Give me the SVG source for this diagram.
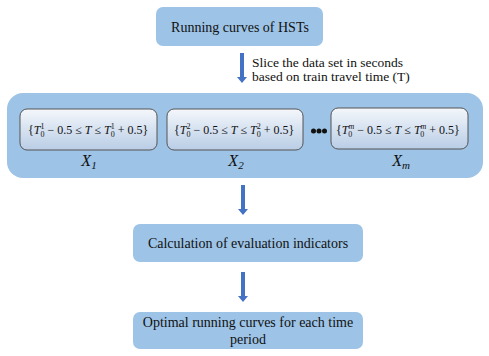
<svg xmlns="http://www.w3.org/2000/svg" width="489" height="356" viewBox="0 0 489 356">
<defs>
<linearGradient id="g" x1="0" y1="0" x2="0" y2="1">
<stop offset="0" stop-color="#f4f7fb"/>
<stop offset="1" stop-color="#b9cde6"/>
</linearGradient>
<style>
.box{fill:#9dc3e6;}
.inner{fill:url(#g);stroke:#555;stroke-width:1;}
.t{font-family:"Liberation Serif","Times New Roman",serif;font-size:14px;fill:#111;text-anchor:middle;}
.s13{font-family:"Liberation Serif","Times New Roman",serif;font-size:13.5px;fill:#111;}
.m{font-family:"Liberation Serif","Times New Roman",serif;font-size:12px;fill:#111;}
.i{font-style:italic;}
.sc{font-size:8px;}
.x{font-family:"Liberation Serif","Times New Roman",serif;font-size:16px;font-style:italic;fill:#111;text-anchor:middle;}
.arr{fill:#4472c4;}
</style>
</defs>

<g id="connectors">
<path class="arr" d="M240,53 H244 V77 H247 L242,83 L237,77 H240 Z"/>
<path class="arr" d="M241,185 H245 V209 H248 L243,215 L238,209 H241 Z"/>
<path class="arr" d="M241,272 H245 V296 H248 L243,302 L238,296 H241 Z"/>
</g>

<g id="n-top">
<rect class="box" x="156" y="7" width="167" height="39" rx="7"/>
<text class="t" x="240" y="32">Running curves of HSTs</text>
</g>

<g id="slice-label">
<text class="s13" x="252" y="67">Slice the data set in seconds</text>
<text class="s13" x="252" y="81">based on train travel time (T)</text>
</g>

<g id="n-container">
<rect class="box" x="7" y="93" width="476" height="85" rx="16"/>
</g>

<g id="n-x1">
<rect class="inner" x="20" y="109" width="137" height="41" rx="7"/>
<text class="m" x="28" y="134">{<tspan class="i">T</tspan><tspan class="sc" dy="-5">1</tspan><tspan class="sc" dx="-4" dy="8">0</tspan><tspan dy="-3"> − 0.5 ≤ </tspan><tspan class="i">T</tspan> ≤ <tspan class="i">T</tspan><tspan class="sc" dy="-5">1</tspan><tspan class="sc" dx="-4" dy="8">0</tspan><tspan dy="-3"> + 0.5}</tspan></text>
<text class="x" x="89" y="166">X<tspan font-size="11" dy="3">1</tspan></text>
</g>

<g id="n-x2">
<rect class="inner" x="167" y="109" width="136" height="41" rx="7"/>
<text class="m" x="174" y="134">{<tspan class="i">T</tspan><tspan class="sc" dy="-5">2</tspan><tspan class="sc" dx="-4" dy="8">0</tspan><tspan dy="-3"> − 0.5 ≤ </tspan><tspan class="i">T</tspan> ≤ <tspan class="i">T</tspan><tspan class="sc" dy="-5">2</tspan><tspan class="sc" dx="-4" dy="8">0</tspan><tspan dy="-3"> + 0.5}</tspan></text>
<text class="x" x="236" y="166">X<tspan font-size="11" dy="3">2</tspan></text>
</g>

<g id="dots">
<circle cx="313.5" cy="131" r="2.5" fill="#111"/>
<circle cx="319" cy="131" r="2.5" fill="#111"/>
<circle cx="324.5" cy="131" r="2.5" fill="#111"/>
</g>

<g id="n-xm">
<rect class="inner" x="331" y="108" width="137" height="41" rx="7"/>
<text class="m" x="336" y="134">{<tspan class="i">T</tspan><tspan class="sc i" dy="-5">m</tspan><tspan class="sc" dx="-6" dy="8">0</tspan><tspan dx="2" dy="-3"> − 0.5 ≤ </tspan><tspan class="i">T</tspan> ≤ <tspan class="i">T</tspan><tspan class="sc i" dy="-5">m</tspan><tspan class="sc" dx="-6" dy="8">0</tspan><tspan dx="2" dy="-3"> + 0.5}</tspan></text>
<text class="x" x="401" y="166">X<tspan font-size="11" dy="3">m</tspan></text>
</g>

<g id="n-calc">
<rect class="box" x="133" y="224" width="230" height="38" rx="7"/>
<text class="t" x="248" y="248">Calculation of evaluation indicators</text>
</g>

<g id="n-opt">
<rect class="box" x="133" y="312" width="230" height="37" rx="7"/>
<text class="t" x="248" y="327">Optimal running curves for each time</text>
<text class="t" x="248" y="344">period</text>
</g>
</svg>
